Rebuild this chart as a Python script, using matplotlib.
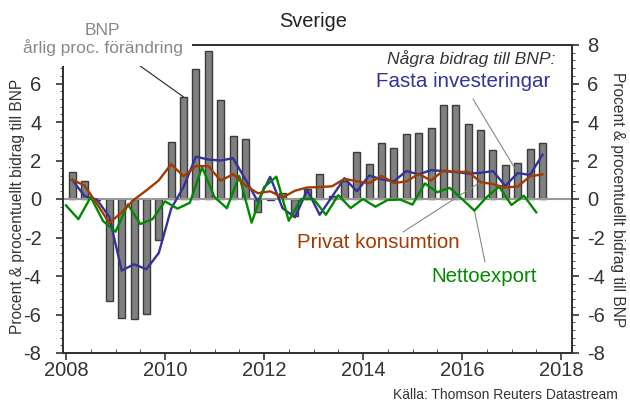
import numpy as np
import matplotlib
matplotlib.use('Agg')
import matplotlib.pyplot as plt
from matplotlib.ticker import MultipleLocator

plt.rcParams['font.family'] = ['Liberation Sans', 'DejaVu Sans']

# Quarterly data, 2008Q1 - 2017Q3
start_year = 2008
gdp = [1.4, 0.95, -0.05, -5.3, -6.18, -6.23, -5.97, -2.13,
       2.95, 5.3, 6.75, 7.7, 5.15, 3.25, 3.1, -0.7,
       -0.05, 0.3, -0.9, 0.5, 1.3, 0.15, 0.92, 2.45,
       1.8, 2.93, 2.63, 3.37, 3.43, 3.68, 4.87, 4.88,
       3.9, 3.56, 2.55, 1.78, 1.88, 2.62, 2.9]
investment = [1.0, 0.15, -0.03, -0.93, -3.72, -3.39, -3.65, -2.8,
              -0.5, 0.63, 2.2, 2.05, 2.0, 2.12, 1.02, -0.12,
              1.15, -0.48, -0.95, 0.47, -0.82, 0.12, 1.08, 0.4,
              1.22, 1.02, 0.92, 1.45, 1.28, 1.5, 1.45, 1.4,
              1.32, 1.36, 1.45, 0.68, 1.35, 1.25, 2.3]
consumption = [1.0, 0.7, -0.25, -1.25, -0.69, -0.03, 0.45, 0.97,
               1.81, 1.18, 1.71, 1.71, 0.95, 1.29, 0.71, 0.3,
               0.4, 0.08, 0.43, 0.6, 0.62, 0.66, 1.05, 0.92,
               0.82, 1.2, 0.83, 0.91, 1.3, 0.96, 1.48, 1.41,
               1.41, 0.88, 0.77, 0.6, 0.65, 1.18, 1.28]
net_export = [-0.33, -1.05, 0.1, -1.15, -1.7, -0.28, -1.3, -1.04,
              -0.12, -0.5, -0.2, 1.65, 0.1, -0.48, 1.2, -1.23,
              0.61, 1.16, -1.13, 0.0, 0.0, -0.82, 0.2, -0.47,
              0.0, -0.4, -0.05, -0.03, -0.29, 0.81, 0.35, 0.58,
              0.0, -0.6, 0.1, 0.64, -0.31, 0.17, -0.69]

x_ticks = [2008, 2010, 2012, 2014, 2016, 2018]
y_ticks = [-8, -6, -4, -2, 0, 2, 4, 6, 8]

BLUE = '#333399'
BROWN = '#a33b00'
GREEN = '#008a00'
DARK = '#333333'

t = start_year + np.arange(len(gdp)) / 4.0
t_mid = t + 0.125

fig = plt.figure(figsize=(6.3, 4.01), dpi=100)
ax = fig.add_axes([63 / 630, 1 - 353 / 401, 509 / 630, 308 / 401])

ax.bar(t_mid, gdp, width=0.14, color='#808080', edgecolor='#3a3a3a',
       linewidth=1, zorder=2)
ax.axhline(0, color='#999999', linewidth=1.5, zorder=3)
ax.plot(t_mid, investment, color=BLUE, linewidth=1.7, zorder=4)
ax.plot(t_mid, consumption, color=BROWN, linewidth=1.7, zorder=5)
ax.plot(t, net_export, color=GREEN, linewidth=1.7, zorder=4)

ax.set_xlim(2008 - 3 / 49.5, 2008 + 506 / 49.5)
ax.set_ylim(-8, 8)
ax.set_xticks(x_ticks)
ax.set_yticks(y_ticks)
ax.xaxis.set_minor_locator(MultipleLocator(0.5))
ax.yaxis.set_minor_locator(MultipleLocator(0.4))
ax.tick_params(axis='both', which='major', labelsize=14.5, colors=DARK,
               length=5, width=1.2)
ax.tick_params(axis='y', which='major', pad=10.5)
ax.tick_params(axis='x', which='major', pad=1)
ax.tick_params(axis='x', which='minor', direction='in', length=3, color=DARK)
ax.tick_params(axis='y', which='minor', length=2.5, color=DARK)
# top left label is hidden behind the BNP caption in the original
ax.set_yticklabels([f'{v}' if v < 8 else '' for v in y_ticks])
for sp in ax.spines.values():
    sp.set_color(DARK)
    sp.set_linewidth(1.4)

# right axis
ax2 = ax.twinx()
ax2.set_ylim(-8, 8)
ax2.set_yticks(y_ticks)
ax2.set_yticklabels([f'{v}' for v in y_ticks])
ax2.yaxis.set_minor_locator(MultipleLocator(0.4))
ax2.tick_params(axis='y', which='major', labelsize=14.5, colors=DARK,
                length=5, width=1.2, pad=6)
ax2.tick_params(axis='y', which='minor', length=2.5, color=DARK)
for sp in ax2.spines.values():
    sp.set_color(DARK)
    sp.set_linewidth(1.4)

# texts
fig.text(313 / 630, 1 - 27 / 401, 'Sverige', ha='center', va='baseline',
         fontsize=14.4, color='#222222')
ylab = 'Procent & procentuellt bidrag till BNP'
fig.text(17.5 / 630, 1 - 206 / 401, ylab, rotation=90, ha='center',
         va='center', fontsize=11.2, color=DARK)
fig.text(618 / 630, 1 - 200 / 401, ylab, rotation=270, ha='center',
         va='center', fontsize=11.2, color=DARK)

fig.text(102.5 / 630, 1 - 53 / 401, 'BNP\nårlig proc. förändring',
         ha='center', va='baseline', multialignment='center',
         linespacing=1.05, fontsize=12.5, color='#888888',
         bbox=dict(facecolor='white', edgecolor='none', pad=7), zorder=10)

fig.text(555 / 630, 1 - 64 / 401, 'Några bidrag till BNP:', ha='right',
         va='baseline', fontsize=12.6, style='italic', color=DARK)
fig.text(550 / 630, 1 - 87 / 401, 'Fasta investeringar', ha='right',
         va='baseline', fontsize=14.8, color=BLUE)
fig.text(297 / 630, 1 - 248 / 401, 'Privat konsumtion', ha='left',
         va='baseline', fontsize=14.8, color=BROWN)
fig.text(431 / 630, 1 - 282 / 401, 'Nettoexport', ha='left',
         va='baseline', fontsize=14.8, color=GREEN)
fig.text(618 / 630, 1 - 399 / 401, 'Källa: Thomson Reuters Datastream',
         ha='right', va='baseline', fontsize=10, color=DARK)

# connector lines from labels to series
line_kw = dict(arrowstyle='-', linewidth=0.8, shrinkA=0, shrinkB=0)
ax.annotate('', xy=(t_mid[9], gdp[9]), xytext=(136 / 630, 1 - 63 / 401),
            textcoords='figure fraction',
            arrowprops=dict(color='#222222', **line_kw))
ax.annotate('', xy=(t_mid[36], investment[36]),
            xytext=(473 / 630, 1 - 99 / 401), textcoords='figure fraction',
            arrowprops=dict(color='#888888', **line_kw))
ax.annotate('', xy=(t_mid[33], consumption[33]),
            xytext=(403 / 630, 1 - 232 / 401), textcoords='figure fraction',
            arrowprops=dict(color='#888888', **line_kw))
ax.annotate('', xy=(t[33], net_export[33]),
            xytext=(485 / 630, 1 - 262 / 401), textcoords='figure fraction',
            arrowprops=dict(color='#888888', **line_kw))

fig.savefig('out.png', dpi=100)
